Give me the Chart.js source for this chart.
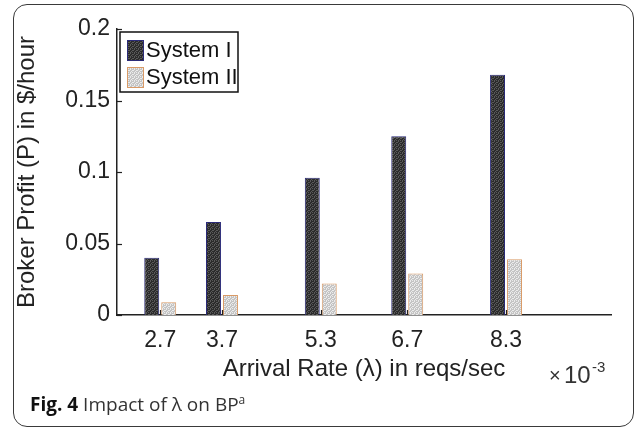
<!DOCTYPE html>
<html><head><meta charset="utf-8">
<script src="https://cdn.jsdelivr.net/npm/chart.js@4.4.1/dist/chart.umd.min.js"></script>
<style>
html,body{margin:0;padding:0;background:#fff;width:637px;height:429px;overflow:hidden;}
#frame{position:absolute;left:13px;top:4px;width:619px;height:421px;border:1.5px solid #3a3a3a;border-radius:14px;}
#wrap{position:absolute;left:0;top:0;width:637px;height:429px;}
#cap{position:absolute;left:30px;top:392px;font-family:"Open Sans",sans-serif;font-size:19px;line-height:24px;color:#333;}
#cap b{color:#111;}
#cap sup{font-size:12px;line-height:0;}
</style></head>
<body>
<div id="frame"></div>
<div id="wrap"><canvas id="c" width="637" height="429"></canvas></div>
<div id="cap"><b>Fig. 4</b> Impact of λ on BP<sup>a</sup></div>
<script>
// ---- data ----
const arrivalRates = [2.7, 3.7, 5.3, 6.7, 8.3];          // x 10^-3 reqs/sec
const systemI  = [0.040, 0.065, 0.096, 0.125, 0.168];
const systemII = [0.009, 0.014, 0.022, 0.029, 0.039];
const seriesNames = ['System I', 'System II'];
const yTickValues = [0, 0.05, 0.1, 0.15, 0.2];
const xTitle = 'Arrival Rate (\u03BB) in reqs/sec';
const yTitle = 'Broker Profit (P) in $/hour';

function makePattern(base, dot) {
  const p = document.createElement('canvas');
  p.width = 4; p.height = 4;
  const g = p.getContext('2d');
  g.fillStyle = base; g.fillRect(0, 0, 4, 4);
  g.fillStyle = dot;
  g.fillRect(0, 0, 1, 1); g.fillRect(2, 1, 1, 1); g.fillRect(1, 2, 1, 1); g.fillRect(3, 3, 1, 1);
  g.fillRect(2, 0, 1, 1); g.fillRect(0, 2, 1, 1);
  return g.createPattern(p, 'repeat');
}
const ctx = document.getElementById('c').getContext('2d');
const patI = makePattern('#2b2b2b', '#595959');
const patII = makePattern('#c4c4c4', '#ebebeb');

const FONT = "'Liberation Sans', Arial, sans-serif";

const decorPlugin = {
  id: 'decor',
  afterDraw(chart) {
    const c = chart.ctx, a = chart.chartArea;
    const xs = chart.scales.x, ys = chart.scales.y;
    c.save();
    // inward tick marks
    c.strokeStyle = '#222'; c.lineWidth = 1.2;
    xs.ticks.forEach(t => {
      const px = Math.round(xs.getPixelForValue(t.value)) + 0.5;
      c.beginPath(); c.moveTo(px, a.bottom); c.lineTo(px, a.bottom - 5); c.stroke();
    });
    ys.ticks.forEach(t => {
      const py = Math.round(ys.getPixelForValue(t.value)) + 0.5;
      c.beginPath(); c.moveTo(a.left, py); c.lineTo(a.left + 5, py); c.stroke();
    });
    // legend
    const lx = a.left + 3, ly = a.top + 3, lw = 118, lh = 60;
    c.fillStyle = '#fff'; c.fillRect(lx, ly, lw, lh);
    c.strokeStyle = '#111'; c.lineWidth = 1.5; c.strokeRect(lx, ly, lw, lh);
    c.font = '22px ' + FONT; c.textBaseline = 'middle'; c.textAlign = 'left';
    chart.data.datasets.forEach((ds, i) => {
      const sy = ly + 8 + i * 27;
      c.fillStyle = ds.backgroundColor; c.fillRect(lx + 7, sy, 17, 21);
      c.strokeStyle = ds.borderColor; c.lineWidth = 1; c.strokeRect(lx + 7.5, sy + 0.5, 16, 20);
      c.fillStyle = '#111'; c.fillText(ds.label, lx + 26, sy + 11);
    });
    // exponent label
    c.fillStyle = '#333'; c.textBaseline = 'alphabetic';
    c.font = '20px ' + FONT; c.fillText('\u00D7', a.right - 62, 382);
    c.font = '24px ' + FONT; c.fillText('10', a.right - 47, 383);
    c.font = '15px ' + FONT; c.fillText('-3', a.right - 19, 372);
    c.restore();
  }
};

new Chart(ctx, {
  type: 'bar',
  data: {
    datasets: [
      { label: seriesNames[0], data: arrivalRates.map((x, i) => ({ x, y: systemI[i] })),
        backgroundColor: patI, borderColor: '#2a2a78', borderWidth: 1 },
      { label: seriesNames[1], data: arrivalRates.map((x, i) => ({ x, y: systemII[i] })),
        backgroundColor: patII, borderColor: '#d99a66', borderWidth: 1 }
    ]
  },
  options: {
    responsive: false, animation: false,
    layout: { padding: { left: 0, right: 26, top: 29, bottom: 44 } },
    plugins: { legend: { display: false }, tooltip: { enabled: false } },
    categoryPercentage: 0.55, barPercentage: 0.88,
    scales: {
      x: {
        type: 'linear', min: 2, max: 10, offset: false,
        afterBuildTicks: s => { s.ticks = arrivalRates.map(v => ({ value: v })); },
        afterFit: s => { s.height = 70; },
        grid: { display: false, drawTicks: false },
        border: { display: true, color: '#222', width: 1.5 },
        ticks: { padding: 12, color: '#222', font: { family: FONT, size: 23 },
                 callback: v => v.toFixed(1), maxRotation: 0, autoSkip: false },
        title: { display: true, text: xTitle, color: '#222', font: { family: FONT, size: 24 },
                 padding: { top: 0, bottom: 1 } }
      },
      y: {
        min: 0, max: 0.2,
        afterBuildTicks: s => { s.ticks = yTickValues.map(v => ({ value: v })); },
        afterFit: s => { s.width = 117; },
        grid: { display: false, drawTicks: false },
        border: { display: true, color: '#222', width: 1.5 },
        ticks: { padding: 7, color: '#222', font: { family: FONT, size: 23 },
                 callback: v => String(v) },
        title: { display: true, text: yTitle, color: '#222', font: { family: FONT, size: 24 },
                 padding: { top: 13, bottom: 0 } }
      }
    }
  },
  plugins: [decorPlugin]
});
</script>
</body></html>
